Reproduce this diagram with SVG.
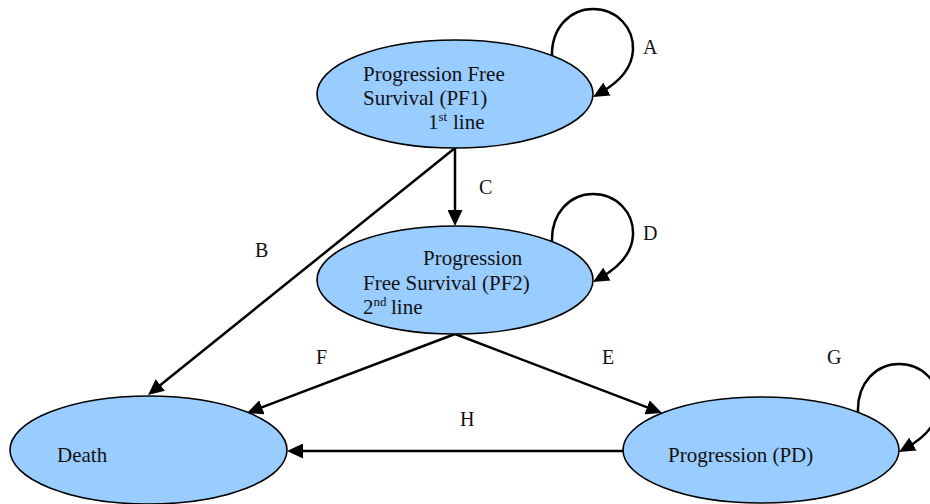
<svg xmlns="http://www.w3.org/2000/svg" width="930" height="504" viewBox="0 0 930 504">
<style>
.node{fill:#99CCFF;stroke:#000;stroke-width:1.6}
.t{font-family:"Liberation Serif","Times New Roman",serif;font-size:21px;fill:#111}
.sup{font-size:13px}
.lbl{font-family:"Liberation Serif","Times New Roman",serif;font-size:20px;fill:#111}
.edge{fill:none;stroke:#000;stroke-width:2.5;marker-end:url(#ah)}
</style>
<defs>
<marker id="ah" markerUnits="userSpaceOnUse" markerWidth="16" markerHeight="15" refX="8" refY="7.5" orient="auto">
<path d="M0,0 L16,7.5 L0,15 z" fill="#000"/>
</marker>
</defs>
<rect width="930" height="504" fill="#fff"/>
<g id="connectors">
<path class="edge" d="M455,148 L455,218"/>
<path class="edge" d="M455,148 L154.2,390"/>
<path class="edge" d="M455,334 L254.5,410.2"/>
<path class="edge" d="M455,334 L654.5,410.2"/>
<path class="edge" d="M623,451 L295,451"/>
<path class="edge" d="M552,57 C551,28 570,9 593,9 C617,9 634,28 633,50 C632,70 616,84 600,93"/>
<path class="edge" d="M552,242 C551,213 570,194 593,194 C617,194 634,213 633,235 C632,255 616,269 600,278"/>
<path class="edge" d="M858,412 C857,383 876,364 899,364 C923,364 940,383 939,405 C938,425 922,439 906,448"/>
</g>
<g id="labels">
<text class="lbl" x="643" y="54">A</text>
<text class="lbl" x="255" y="257">B</text>
<text class="lbl" x="479" y="194">C</text>
<text class="lbl" x="643" y="240">D</text>
<text class="lbl" x="602" y="364">E</text>
<text class="lbl" x="316" y="364">F</text>
<text class="lbl" x="827" y="364">G</text>
<text class="lbl" x="460" y="426">H</text>
</g>
<g id="pf1">
<ellipse class="node" cx="455" cy="94" rx="138" ry="54"/>
<text class="t" x="363" y="81">Progression Free</text>
<text class="t" x="363" y="105">Survival (PF1)</text>
<text class="t" x="428" y="129">1<tspan class="sup" dy="-8">st</tspan><tspan x="453" dy="8">line</tspan></text>
</g>
<g id="pf2">
<ellipse class="node" cx="455" cy="280" rx="138" ry="54"/>
<text class="t" x="423" y="265">Progression</text>
<text class="t" x="363" y="290">Free Survival (PF2)</text>
<text class="t" x="363" y="314">2<tspan class="sup" dy="-8">nd</tspan><tspan x="391" dy="8">line</tspan></text>
</g>
<g id="death">
<ellipse class="node" cx="148.5" cy="450" rx="138.5" ry="54"/>
<text class="t" x="57" y="462">Death</text>
</g>
<g id="pd">
<ellipse class="node" cx="761" cy="450" rx="138" ry="53"/>
<text class="t" x="668" y="462">Progression (PD)</text>
</g>
</svg>
